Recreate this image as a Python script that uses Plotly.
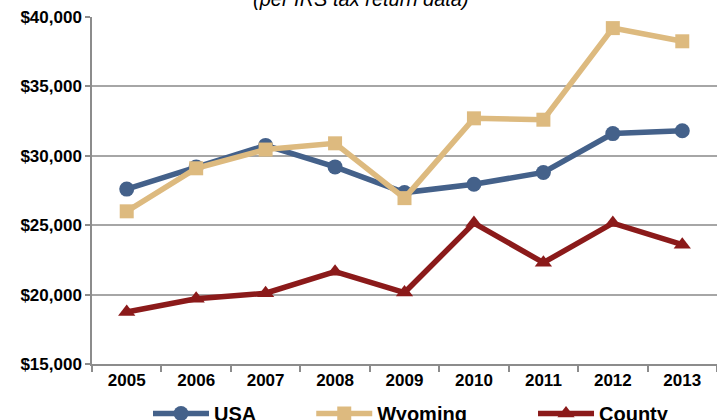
import plotly.graph_objects as go

years = ["2005", "2006", "2007", "2008", "2009", "2010", "2011", "2012", "2013"]
usa = [27600, 29200, 30750, 29200, 27350, 27950, 28800, 31600, 31800]
wyoming = [26000, 29100, 30450, 30900, 26950, 32700, 32600, 39200, 38250]
county = [18750, 19700, 20100, 21650, 20150, 25150, 22300, 25150, 23600]

names = ["USA", "Wyoming", "County"]
pads = ["\u00a0" * 9, "\u00a0" * 11, ""]
colors = ["#44618A", "#DDBA7F", "#8B1A1A"]
symbols = ["circle", "square", "triangle-up"]
sizes = [15, 14, 15]

W, H = 717, 440
fig = go.Figure()
for name, pad, vals, c, s, sz in zip(names, pads, [usa, wyoming, county], colors, symbols, sizes):
    fig.add_trace(go.Scatter(
        x=years, y=vals, name=name + pad, mode="lines+markers",
        line=dict(color=c, width=5.5),
        marker=dict(symbol=s, size=sz, color=c, line=dict(width=0)),
    ))

fig.update_layout(
    width=W, height=H,
    margin=dict(l=92, r=0, t=17, b=H - 364),
    paper_bgcolor="white", plot_bgcolor="white",
    font=dict(family="Liberation Sans, Arial, sans-serif", color="#000000"),
    showlegend=True,
    legend=dict(orientation="h", x=0.5104, xanchor="center", y=-30 / 347, yanchor="top",
                font=dict(size=20, family="Liberation Sans, Arial, sans-serif", weight="bold"),
                itemwidth=56, traceorder="normal"),
    annotations=[dict(text="<i>(per IRS tax return data)</i>", xref="paper", yref="paper",
                      x=(361 - 92) / 625, y=1 + 5 / 347, xanchor="center", yanchor="bottom",
                      showarrow=False, font=dict(size=20))],
)
fig.update_xaxes(
    type="category", range=[-0.5, 8.5], tickson="boundaries", ticks="outside", ticklen=6,
    tickcolor="#8C8C8C", tickwidth=1.5, showline=True, linecolor="#8C8C8C", linewidth=1.5,
    showgrid=False, tickfont=dict(size=17, weight="bold"),
)
fig.update_yaxes(
    range=[15000, 40000], dtick=5000, tickformat="$,", ticks="outside", ticklen=5,
    tickcolor="#8C8C8C", tickwidth=1.5, showline=True, linecolor="#8C8C8C", linewidth=1.5,
    showgrid=True, gridcolor="#A6A6A6", gridwidth=1.5, zeroline=False,
    tickfont=dict(size=17, weight="bold"),
)
post = (
    "document.documentElement.style.margin='0';document.body.style.margin='0';"
    "document.body.style.padding='0';document.body.style.overflow='hidden';"
    "var gd=document.getElementById('{plot_id}');"
    "Plotly.relayout(gd,{width:%d,height:%d});" % (W, H)
)
fig.write_html("out.html", post_script=post, config={"displayModeBar": False})
